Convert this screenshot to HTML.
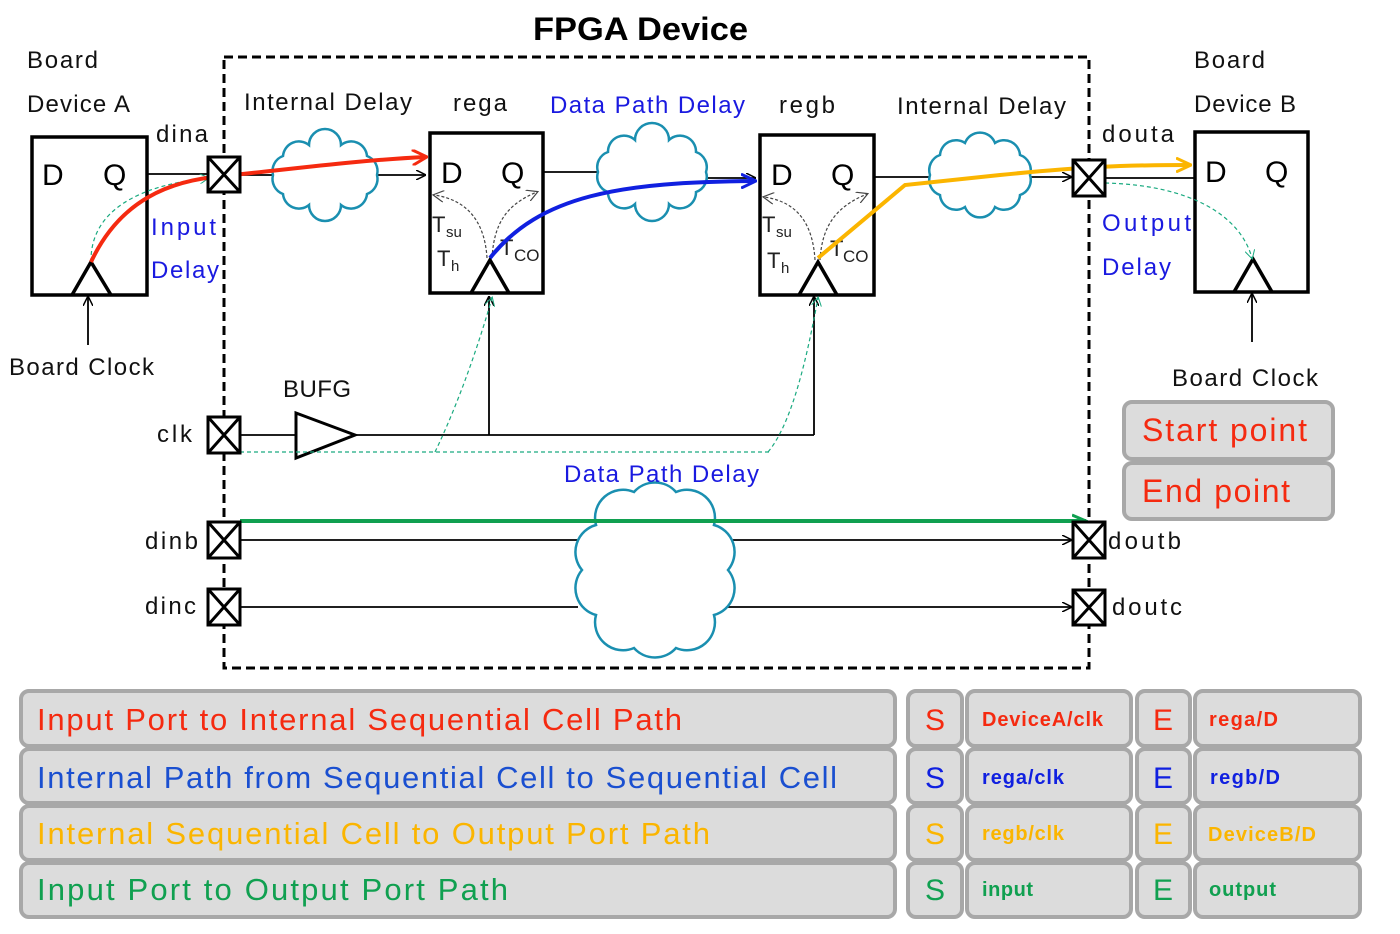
<!DOCTYPE html>
<html><head><meta charset="utf-8"><style>
html,body{margin:0;padding:0;background:#fff}
svg{display:block}
text{font-family:"Liberation Sans","DejaVu Sans",sans-serif}
</style></head><body>
<svg width="1400" height="934" viewBox="0 0 1400 934" xmlns="http://www.w3.org/2000/svg">
<defs>
<marker id="ak" markerWidth="10" markerHeight="10" refX="9" refY="5" orient="auto" markerUnits="userSpaceOnUse"><path d="M0,0 L10,5 L0,10" fill="none" stroke="#000" stroke-width="1.5"/></marker>
<marker id="ar" markerWidth="16" markerHeight="16" refX="14" refY="8" orient="auto" markerUnits="userSpaceOnUse"><path d="M0,0 L15,8 L0,16" fill="none" stroke="#f52a10" stroke-width="3"/></marker>
<marker id="ab" markerWidth="16" markerHeight="16" refX="14" refY="8" orient="auto" markerUnits="userSpaceOnUse"><path d="M0,1 L15,8 L0,15" fill="none" stroke="#1020e0" stroke-width="3"/></marker>
<marker id="ao" markerWidth="16" markerHeight="16" refX="14" refY="8" orient="auto" markerUnits="userSpaceOnUse"><path d="M0,1 L15,8 L0,15" fill="none" stroke="#fbb500" stroke-width="3"/></marker>
<marker id="ag" markerWidth="16" markerHeight="16" refX="14" refY="8" orient="auto" markerUnits="userSpaceOnUse"><path d="M0,2 L14,8 L0,14" fill="none" stroke="#10a050" stroke-width="3"/></marker>
<marker id="at" markerWidth="10" markerHeight="10" refX="8" refY="5" orient="auto" markerUnits="userSpaceOnUse"><path d="M0,0 L9,5 L0,10" fill="none" stroke="#1aaa80" stroke-width="1"/></marker>
<marker id="ad" markerWidth="12" markerHeight="12" refX="10" refY="6" orient="auto" markerUnits="userSpaceOnUse"><path d="M0,0 L11,6 L0,12" fill="none" stroke="#444" stroke-width="1.2"/></marker>
</defs>

<text x="533" y="40" font-size="32" font-weight="bold" textLength="215" lengthAdjust="spacingAndGlyphs">FPGA Device</text>
<rect x="224" y="57" width="865" height="611" fill="none" stroke="#000" stroke-width="3" stroke-dasharray="9,5"/>

<g stroke="#000" stroke-width="1.8" fill="none">
<line x1="147" y1="174" x2="208" y2="174"/>
<line x1="240" y1="175" x2="272" y2="175"/>
<line x1="378" y1="175" x2="425" y2="175" marker-end="url(#ak)"/>
<line x1="543" y1="172" x2="600" y2="172"/>
<line x1="704" y1="178" x2="755" y2="178" marker-end="url(#ak)"/>
<line x1="874" y1="177" x2="932" y2="177"/>
<line x1="1028" y1="177" x2="1071" y2="177" marker-end="url(#ak)"/>
<line x1="1105" y1="178" x2="1195" y2="178"/>
<line x1="240" y1="435" x2="296" y2="435"/>
<line x1="355" y1="435" x2="814" y2="435"/>
<line x1="489" y1="435" x2="489" y2="297" marker-end="url(#ak)"/>
<line x1="814" y1="435" x2="814" y2="297" marker-end="url(#ak)"/>
<line x1="240" y1="540" x2="585" y2="540"/>
<line x1="733" y1="540" x2="1071" y2="540" marker-end="url(#ak)"/>
<line x1="240" y1="607" x2="578" y2="607"/>
<line x1="712" y1="607" x2="1071" y2="607" marker-end="url(#ak)"/>
<line x1="88" y1="345" x2="88" y2="297" marker-end="url(#ak)"/>
<line x1="1252" y1="342" x2="1252" y2="294" marker-end="url(#ak)"/>
</g>
<polygon points="296,413 296,458 355,435" fill="#fff" stroke="#000" stroke-width="3"/>

<g fill="#fff" stroke="#1a8fb0" stroke-width="2.5">
<path d="M377,175 A16,16 0 0 1 367,194 A16,16 0 0 1 341,205 A16,16 0 0 1 309,205 A16,16 0 0 1 283,194 A16,16 0 0 1 273,175 A16,16 0 0 1 283,156 A16,16 0 0 1 309,145 A16,16 0 0 1 341,145 A16,16 0 0 1 367,156 A16,16 0 0 1 377,175Z"/>
<path d="M706,172 A16,16 0 0 1 696,192 A16,16 0 0 1 669,204 A16,16 0 0 1 635,204 A16,16 0 0 1 608,192 A16,16 0 0 1 598,172 A16,16 0 0 1 608,152 A16,16 0 0 1 635,140 A16,16 0 0 1 669,140 A16,16 0 0 1 696,152 A16,16 0 0 1 706,172Z"/>
<path d="M1030,175 A16,16 0 0 1 1020,195 A16,16 0 0 1 995,207 A16,16 0 0 1 965,207 A16,16 0 0 1 940,195 A16,16 0 0 1 930,175 A16,16 0 0 1 940,155 A16,16 0 0 1 965,143 A16,16 0 0 1 995,143 A16,16 0 0 1 1020,155 A16,16 0 0 1 1030,175Z"/>
<path d="M728,570 A28,28 0 0 1 714,615 A28,28 0 0 1 676,648 A28,28 0 0 1 634,648 A28,28 0 0 1 596,615 A28,28 0 0 1 582,570 A28,28 0 0 1 596,525 A28,28 0 0 1 634,492 A28,28 0 0 1 676,492 A28,28 0 0 1 714,525 A28,28 0 0 1 728,570Z"/>
</g>

<g fill="none" stroke="#000" stroke-width="3.5">
<rect x="32" y="137" width="115" height="158" fill="#fff"/>
<rect x="430" y="133" width="113" height="160"/>
<rect x="760" y="135" width="114" height="160"/>
<rect x="1195" y="132" width="113" height="160" fill="#fff"/>
<polyline points="72,295 91,262 111,295"/>
<polyline points="471,293 490,260 509,293"/>
<polyline points="799,295 818,262 837,295"/>
<polyline points="1234,292 1253,259 1272,292"/>
</g>
<g font-size="30">
<text x="42" y="185">D</text><text x="103" y="185">Q</text>
<text x="441" y="183">D</text><text x="501" y="183">Q</text>
<text x="771" y="185">D</text><text x="831" y="185">Q</text>
<text x="1205" y="182">D</text><text x="1265" y="182">Q</text>
</g>
<g font-size="22" fill="#222">
<text x="432" y="232">T</text><text x="446" y="237" font-size="15">su</text>
<text x="437" y="266">T</text><text x="451" y="271" font-size="15">h</text>
<text x="500" y="255">T</text><text x="514" y="261" font-size="17">CO</text>
<text x="762" y="232">T</text><text x="776" y="237" font-size="15">su</text>
<text x="767" y="268">T</text><text x="781" y="273" font-size="15">h</text>
<text x="830" y="256">T</text><text x="843" y="262" font-size="17">CO</text>
</g>
<g fill="none" stroke="#444" stroke-width="1.2" stroke-dasharray="3,2">
<path d="M487,258 C485,225 470,200 434,195" marker-end="url(#ad)"/>
<path d="M492,258 C494,225 505,205 537,192" marker-end="url(#ad)"/>
<path d="M815,260 C813,227 800,202 764,197" marker-end="url(#ad)"/>
<path d="M820,260 C822,227 835,207 867,194" marker-end="url(#ad)"/>
</g>

<g fill="none" stroke="#1aaa80" stroke-width="1.2" stroke-dasharray="4,3">
<line x1="240" y1="452" x2="770" y2="452"/>
<path d="M435,452 C460,400 480,340 492,298" marker-end="url(#at)"/>
<path d="M768,452 C795,420 810,340 818,298" marker-end="url(#at)"/>
<path d="M91,262 C90,210 140,185 208,178" marker-end="url(#at)"/>
<path d="M1105,183 C1190,185 1240,215 1252,258" marker-end="url(#at)"/>
</g>

<path d="M91,262 C120,200 170,180 224,176 C300,168 360,160 426,157" fill="none" stroke="#f52a10" stroke-width="4" marker-end="url(#ar)"/>
<path d="M490,258 C540,195 620,182 755,181" fill="none" stroke="#1020e0" stroke-width="4" marker-end="url(#ab)"/>
<path d="M818,258 L905,185 L1000,175 C1080,167 1120,165 1190,165" fill="none" stroke="#fbb500" stroke-width="4" marker-end="url(#ao)"/>
<line x1="240" y1="521" x2="1086" y2="521" stroke="#10a050" stroke-width="4" marker-end="url(#ag)"/>

<g fill="#fff" stroke="#000" stroke-width="3">
<g><rect x="208" y="157" width="32" height="35"/><path d="M208,157 L240,192 M240,157 L208,192"/></g>
<g><rect x="208" y="417" width="32" height="36"/><path d="M208,417 L240,453 M240,417 L208,453"/></g>
<g><rect x="208" y="522" width="32" height="36"/><path d="M208,522 L240,558 M240,522 L208,558"/></g>
<g><rect x="208" y="589" width="32" height="36"/><path d="M208,589 L240,625 M240,589 L208,625"/></g>
<g><rect x="1073" y="160" width="32" height="36"/><path d="M1073,160 L1105,196 M1105,160 L1073,196"/></g>
<g><rect x="1073" y="522" width="32" height="36"/><path d="M1073,522 L1105,558 M1105,522 L1073,558"/></g>
<g><rect x="1073" y="590" width="32" height="35"/><path d="M1073,590 L1105,625 M1105,590 L1073,625"/></g>
</g>

<g font-size="24" fill="#111">
<text x="27" y="68" textLength="71">Board</text>
<text x="27" y="112" textLength="103">Device A</text>
<text x="156" y="142" textLength="52">dina</text>
<text x="244" y="110" textLength="168">Internal Delay</text>
<text x="453" y="111" textLength="54">rega</text>
<text x="779" y="113" textLength="56">regb</text>
<text x="897" y="114" textLength="169">Internal Delay</text>
<text x="1194" y="68" textLength="71">Board</text>
<text x="1194" y="112" textLength="102">Device B</text>
<text x="1102" y="142" textLength="72">douta</text>
<text x="9" y="375" textLength="145">Board Clock</text>
<text x="1172" y="386" textLength="146">Board Clock</text>
<text x="283" y="397" textLength="68">BUFG</text>
<text x="157" y="442" textLength="35">clk</text>
<text x="145" y="549" textLength="53">dinb</text>
<text x="145" y="614" textLength="51">dinc</text>
<text x="1108" y="549" textLength="73">doutb</text>
<text x="1112" y="615" textLength="70">doutc</text>
</g>
<g font-size="24" fill="#1a1ae0">
<text x="550" y="113" textLength="195">Data Path Delay</text>
<text x="564" y="482" textLength="195">Data Path Delay</text>
<text x="151" y="235" textLength="65">Input</text>
<text x="151" y="278" textLength="68">Delay</text>
<text x="1102" y="231" textLength="89">Output</text>
<text x="1102" y="275" textLength="69">Delay</text>
</g>

<g fill="#dcdcdc" stroke="#a8a8a8" stroke-width="4">
<rect x="1124" y="402" width="209" height="57" rx="8"/>
<rect x="1124" y="463" width="209" height="56" rx="8"/>
</g>
<text x="1142" y="441" font-size="32" fill="#f52a10" textLength="165">Start point</text>
<text x="1142" y="502" font-size="32" fill="#f52a10" textLength="148">End point</text>

<g fill="#dcdcdc" stroke="#a8a8a8" stroke-width="4">
<rect x="21" y="691" width="874" height="55" rx="8"/>
<rect x="21" y="749" width="874" height="54" rx="8"/>
<rect x="21" y="806" width="874" height="54" rx="8"/>
<rect x="21" y="863" width="874" height="54" rx="8"/>
<rect x="908" y="691" width="54" height="55" rx="8"/><rect x="967" y="691" width="164" height="55" rx="8"/><rect x="1137" y="691" width="53" height="55" rx="8"/><rect x="1195" y="691" width="165" height="55" rx="8"/>
<rect x="908" y="749" width="54" height="54" rx="8"/><rect x="967" y="749" width="164" height="54" rx="8"/><rect x="1137" y="749" width="53" height="54" rx="8"/><rect x="1195" y="749" width="165" height="54" rx="8"/>
<rect x="908" y="806" width="54" height="54" rx="8"/><rect x="967" y="806" width="164" height="54" rx="8"/><rect x="1137" y="806" width="53" height="54" rx="8"/><rect x="1195" y="806" width="165" height="54" rx="8"/>
<rect x="908" y="863" width="54" height="54" rx="8"/><rect x="967" y="863" width="164" height="54" rx="8"/><rect x="1137" y="863" width="53" height="54" rx="8"/><rect x="1195" y="863" width="165" height="54" rx="8"/>
</g>
<g font-size="31">
<text x="37" y="730" fill="#f52a10" textLength="645">Input Port to Internal Sequential Cell Path</text>
<text x="37" y="788" fill="#1a4fd0" textLength="800">Internal Path from Sequential Cell to Sequential Cell</text>
<text x="37" y="844" fill="#fbb500" textLength="673">Internal Sequential Cell to Output Port Path</text>
<text x="37" y="900" fill="#10a050" textLength="471">Input Port to Output Port Path</text>
</g>
<g font-size="30" text-anchor="middle">
<text x="935" y="730" fill="#f52a10">S</text><text x="1163" y="730" fill="#f52a10">E</text>
<text x="935" y="788" fill="#1020e0">S</text><text x="1163" y="788" fill="#1020e0">E</text>
<text x="935" y="844" fill="#fbb500">S</text><text x="1163" y="844" fill="#fbb500">E</text>
<text x="935" y="900" fill="#10a050">S</text><text x="1163" y="900" fill="#10a050">E</text>
</g>
<g font-size="20" font-weight="bold">
<text x="982" y="726" fill="#f52a10" textLength="121">DeviceA/clk</text><text x="1209" y="726" fill="#f52a10" textLength="69">rega/D</text>
<text x="982" y="784" fill="#1020e0" textLength="82">rega/clk</text><text x="1210" y="784" fill="#1020e0" textLength="70">regb/D</text>
<text x="982" y="840" fill="#fbb500" textLength="82">regb/clk</text><text x="1208" y="841" fill="#fbb500" textLength="108">DeviceB/D</text>
<text x="982" y="896" fill="#10a050" textLength="51">input</text><text x="1209" y="896" fill="#10a050" textLength="67">output</text>
</g>
</svg>
</body></html>
